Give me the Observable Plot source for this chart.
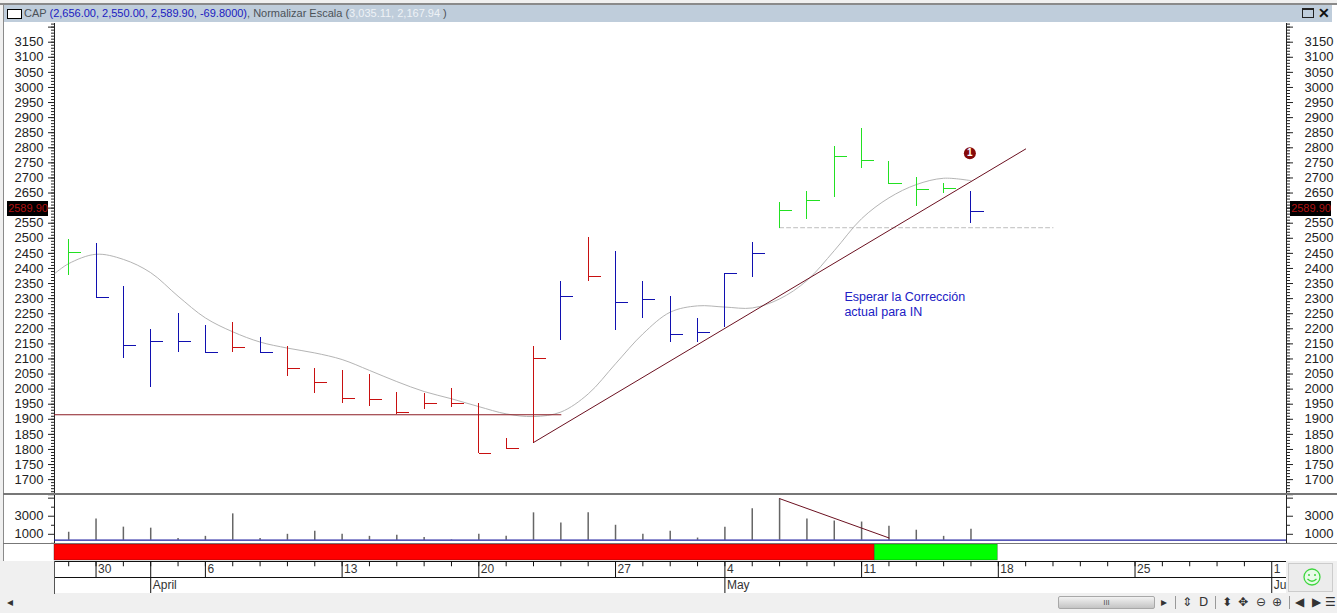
<!DOCTYPE html>
<html><head><meta charset="utf-8">
<script src="https://cdn.jsdelivr.net/npm/d3@7"></script>
<script src="https://cdn.jsdelivr.net/npm/@observablehq/plot@0.6"></script>
<style>
html,body{margin:0;padding:0;background:#f0f0f0;overflow:hidden}
#root{position:relative;width:1337px;height:613px;overflow:hidden;background:#f0f0f0;font-family:"Liberation Sans",Arial,sans-serif}
#root>svg,.abs{position:absolute}
#root>svg{left:0;max-width:none;height:auto}
</style></head><body><div id="root"></div>
<script>
// ---------- data ----------
const highs = [2497,2483,2341,2198,2251,2212,2222,2172,2141,2069,2062,2048,1989,1987,2001,1951,1836,2142,2356,2503,2455,2356,2306,2233,2384,2485,2620,2655,2803,2863,2754,2700,2680,2656];
const lows  = [2377,2303,2103,2007,2123,2120,2123,2120,2043,1987,1953,1943,1917,1933,1940,1788,1804,1819,2161,2358,2195,2235,2156,2156,2203,2371,2531,2563,2635,2732,2679,2605,2647,2550];
const closes= [2453,2303,2144,2157,2157,2120,2137,2120,2069,2021,1968,1965,1921,1951,1951,1788,1804,2102,2306,2373,2286,2296,2180,2188,2382,2448,2591,2624,2770,2757,2680,2661,2664,2589.9];
const states= ["g","b","b","b","b","b","r","b","r","r","r","r","r","r","r","r","r","r","b","r","b","b","b","b","b","b","g","g","g","g","g","g","g","b"];
const volumes=[1226,2697,1792,1679,548,774,3262,548,1000,1339,1000,774,887,660,397,1000,774,3375,2244,3375,2000,1000,1339,585,1792,3827,4920,2697,2470,2357,1905,1452,774,1565];
const maX = [-0.5,0,1,2,3,4,5,6,7,8,9,10,11,12,13,14,15,16,17,18,19,20,21,22,23,24,25,26,27,28,29,30,31,32,33];
const maY = [2384,2416,2447,2430,2386,2308,2236,2190,2156,2136,2120,2098,2062,2025,1992,1968,1942,1918,1909,1924,1984,2084,2183,2255,2276,2272,2269,2299,2360,2459,2565,2634,2678,2699,2691];
const priceTicksMajor = d3.range(1650,3201,50);
const priceTicksMinor = d3.range(1660,3211,10);
const hiddenPriceLabels = [1650,2600,3200];
const volTicksMajor=[1000,3000,5000];
const volTicksMinor=[0,2000,4000];
const volLabels=[1000,3000];
const volBase=350;
const dayIdx=[1,5,10,15,20,24,29,34,39,44];
const dayLabels=["30","6","13","20","27","4","11","18","25","1"];
const monthIdx=[3,24,44];
const monthLabels=["April","May","Ju"];
const sessionIdx=d3.range(0,44);
const stripStates=["r","g"];
const stripEdges=[-0.52,29.48,33.98];
const supportX=[-0.52,18], supportY=[1915,1915];
const trendX=[17,35], trendY=[1823,2796];
const dashX=[26,36], dashY=[2535,2535];
const volTrendX=[26,30], volTrendY=[4950,600];
const noteX=[28.37,28.37], noteY=[2307,2257], noteText=["Esperar la Corrección","actual para IN"];
const signalX=[32.96], signalY=[2782], signalText=["1"];
const lastPrice=2589.9, lastLabel="2589.90";

// ---------- shared scales ----------
const W=1337, ML=54, MR=51, xDomain=[-0.519,44.54];
const idx=highs.map((_,i)=>i);
const barColor={domain:["g","b","r"],range:["#22e022","#1010b0","#c81010"]};
const font={fontFamily:"'Liberation Sans',Arial,sans-serif",fontSize:"13px",background:"transparent",color:"#222",overflow:"visible"};
const base=(h)=>({width:W,height:h,marginLeft:ML,marginRight:MR,marginTop:0,marginBottom:0,style:font,x:{domain:xDomain,axis:null}});
const priceFmt=d=>hiddenPriceLabels.includes(d)?"":String(d);
const volFmt=d=>volLabels.includes(d)?String(d):"";
const pxX=p=>xDomain[0]+(p-ML)*(xDomain[1]-xDomain[0])/(W-ML-MR);

// ---------- price panel ----------
const main=Plot.plot({...base(470),
  y:{domain:[1654,3212],axis:null},
  color:barColor,
  marks:[
    Plot.frame({anchor:"left",stroke:"#222"}),
    Plot.frame({anchor:"right",stroke:"#222"}),
    Plot.axisY({anchor:"left",ticks:priceTicksMinor,tickSize:3,tickFormat:()=>"",label:null,stroke:"#222"}),
    Plot.axisY({anchor:"right",ticks:priceTicksMinor,tickSize:3,tickFormat:()=>"",label:null,stroke:"#222"}),
    Plot.axisY({anchor:"left",ticks:priceTicksMajor,tickSize:6,tickPadding:5,tickFormat:priceFmt,label:null,fill:"#222",stroke:"#222"}),
    Plot.axisY({anchor:"right",ticks:priceTicksMajor,tickSize:6,tickPadding:12,tickFormat:priceFmt,label:null,fill:"#222",stroke:"#222"}),
    Plot.line(maX,{x:d=>d,y:(d,i)=>maY[i],stroke:"#b4b4b4",strokeWidth:1,curve:"catmull-rom"}),
    Plot.line(dashX,{x:d=>d,y:(d,i)=>dashY[i],stroke:"#bdbdbd",strokeWidth:1,strokeDasharray:"4,3"}),
    Plot.ruleX(idx,{x:d=>d,y1:i=>lows[i],y2:i=>highs[i],stroke:i=>states[i],strokeWidth:1,shapeRendering:"crispEdges"}),
    Plot.link(idx,{x1:d=>d,x2:d=>d+0.46,y1:i=>closes[i],y2:i=>closes[i],stroke:i=>states[i],strokeWidth:1,shapeRendering:"crispEdges"}),
    Plot.line(supportX,{x:d=>d,y:(d,i)=>supportY[i],stroke:"#8c1c24",strokeWidth:1.2}),
    Plot.line(trendX,{x:d=>d,y:(d,i)=>trendY[i],stroke:"#6b1020",strokeWidth:1}),
    Plot.dot(signalX,{x:d=>d,y:(d,i)=>signalY[i],r:6,fill:"#850a0a"}),
    Plot.text(signalX,{x:d=>d,y:(d,i)=>signalY[i],text:(d,i)=>signalText[i],fill:"#fff",fontWeight:"bold",fontSize:10}),
    Plot.text(noteX,{x:d=>d,y:(d,i)=>noteY[i],text:(d,i)=>noteText[i],textAnchor:"start",fill:"#2020c4",fontSize:12.5}),
    Plot.ruleY([lastPrice],{x1:()=>pxX(7),x2:()=>pxX(48),stroke:"#000",strokeWidth:15,dy:-2.7}),
    Plot.ruleY([lastPrice],{x1:()=>pxX(1290),x2:()=>pxX(1331),stroke:"#000",strokeWidth:15,dy:-2.7}),
    Plot.text([lastPrice],{x:()=>pxX(27.5),y:d=>d,text:()=>lastLabel,fill:"#b01010",fontSize:11,dy:-2.7}),
    Plot.text([lastPrice],{x:()=>pxX(1310.5),y:d=>d,text:()=>lastLabel,fill:"#b01010",fontSize:11,dy:-2.7})
  ]});
main.style.top="23px";

// ---------- volume panel ----------
const vol=Plot.plot({...base(48),
  y:{domain:[-17,5294],axis:null},
  marks:[
    Plot.frame({anchor:"left",stroke:"#222"}),
    Plot.frame({anchor:"right",stroke:"#222"}),
    Plot.axisY({anchor:"left",ticks:volTicksMinor,tickSize:3,tickFormat:()=>"",label:null,stroke:"#222"}),
    Plot.axisY({anchor:"right",ticks:volTicksMinor,tickSize:3,tickFormat:()=>"",label:null,stroke:"#222"}),
    Plot.axisY({anchor:"left",ticks:volTicksMajor,tickSize:6,tickPadding:5,tickFormat:volFmt,label:null,fill:"#222",stroke:"#222"}),
    Plot.axisY({anchor:"right",ticks:volTicksMajor,tickSize:6,tickPadding:12,tickFormat:volFmt,label:null,fill:"#222",stroke:"#222"}),
    Plot.ruleX(idx,{x:d=>d,y1:()=>volBase,y2:i=>volumes[i],stroke:"#666",strokeWidth:1.5}),
    Plot.ruleY([volBase],{stroke:"#2020a0",strokeWidth:1.2}),
    Plot.line(volTrendX,{x:d=>d,y:(d,i)=>volTrendY[i],stroke:"#6b1020",strokeWidth:1})
  ]});
vol.style.top="495px";

// ---------- state strip ----------
const strip=Plot.plot({...base(16),
  color:{domain:["r","g"],range:["#ff0000","#00ff00"]},
  marks:[Plot.rect(stripStates,{x1:(d,i)=>stripEdges[i],x2:(d,i)=>stripEdges[i+1],fill:d=>d,stroke:"#111",strokeWidth:0.6,strokeOpacity:0.5})]});
strip.style.top="544px";

// ---------- date axis ----------
const dateAxis=Plot.plot({...base(32),
  y:{domain:[2,0],axis:null},
  marks:[
    Plot.ruleY([0,1],{stroke:"#111"}),
    Plot.frame({anchor:"left",stroke:"#555"}),
    Plot.ruleX(sessionIdx,{x:d=>d,y1:()=>0,y2:()=>0.33,stroke:"#111"}),
    Plot.ruleX(dayIdx,{x:d=>d,y1:()=>0,y2:()=>1,stroke:"#111"}),
    Plot.ruleX(monthIdx,{x:d=>d,y1:()=>1,y2:()=>2,stroke:"#111"}),
    Plot.ruleX([3],{x:d=>d,y1:()=>0,y2:()=>1,stroke:"#111"}),
    Plot.text(dayIdx,{x:d=>d,y:()=>0.5,text:(d,i)=>dayLabels[i],textAnchor:"start",dx:2,fontSize:12,fill:"#333"}),
    Plot.text(monthIdx,{x:d=>d,y:()=>1.5,text:(d,i)=>monthLabels[i],textAnchor:"start",dx:2,fontSize:12,fill:"#333"})
  ]});
dateAxis.style.top="561px";

// ---------- window chrome ----------
const root=document.getElementById("root");
const box=(l,t,w,h,css="")=>{const d=document.createElement("div");d.className="abs";d.style.cssText=`position:absolute;left:${l}px;top:${t}px;width:${w}px;height:${h}px;${css}`;root.appendChild(d);return d;};
box(3,3,1334,490,"background:#fff");
box(3,494,1334,67,"background:#fff");
box(54,561,1232,32,"background:#fff");
box(1288,563,45,29,"background:#ececec;border:1px solid #ccc;box-sizing:border-box");
root.append(main,vol,strip,dateAxis);
box(0,3,1337,1.5,"background:#8a8a8a");
box(2.5,3,1.5,558,"background:#8a8a8a");
box(3,493,1334,2,"background:#777");
box(3,542.5,1334,1.5,"background:#777");
const title=box(4,4.5,1328,17.5,"background:#bfcddb;font-size:11px;line-height:17px;color:#4c5258;white-space:nowrap");
title.innerHTML=`<div style="position:absolute;left:3px;top:4px;width:13px;height:8px;border:1px solid #000;background:#fff"></div>
<span style="position:absolute;left:20px;top:0">CAP <span style="color:#1a1ac0">(2,656.00, 2,550.00, 2,589.90, -69.8000)</span>, Normalizar Escala (<span style="color:#eef2f6">3,035.11, 2,167.94</span> )</span>
<div style="position:absolute;left:1298px;top:3px;width:12px;height:10px;border:1px solid #222;border-top-width:2px;box-sizing:border-box"></div>
<span style="position:absolute;left:1314px;top:0;color:#111;font-size:14px;font-weight:bold">✕</span>`;
box(1058,596,97,13,"background:linear-gradient(#f2f2f2,#c4c4c4);border:1px solid #a8a8a8;box-sizing:border-box;border-radius:2px;text-align:center;font-size:8px;line-height:11px;color:#555").textContent="III";
const smile=box(1302,567,20,20,"");
smile.innerHTML=`<svg width="20" height="20" viewBox="0 0 20 20"><circle cx="10" cy="10" r="8" fill="#e8fbe8" stroke="#3fd63f" stroke-width="1.3"/><circle cx="7" cy="8" r="1" fill="#3fd63f"/><circle cx="13" cy="8" r="1" fill="#3fd63f"/><path d="M5.5 12 Q10 16.5 14.5 12" fill="none" stroke="#3fd63f" stroke-width="1.3"/></svg>`;
const iconTexts=[[7,"◂"],[1161,"▸"],[1182,"⇕"],[1199,"D"],[1222,"⬍"],[1238,"✥"],[1256,"⊖"],[1272,"⊕"],[1295,"◀"],[1312,"▶"],[1325,"☰"]];
iconTexts.forEach(([l,t])=>{const d=box(l,594,12,16,"font:12px 'DejaVu Sans';color:#333;line-height:16px");d.textContent=t;});
[1175,1215,1289].forEach(l=>box(l,596,1,13,"background:#999"));
</script></body></html>
